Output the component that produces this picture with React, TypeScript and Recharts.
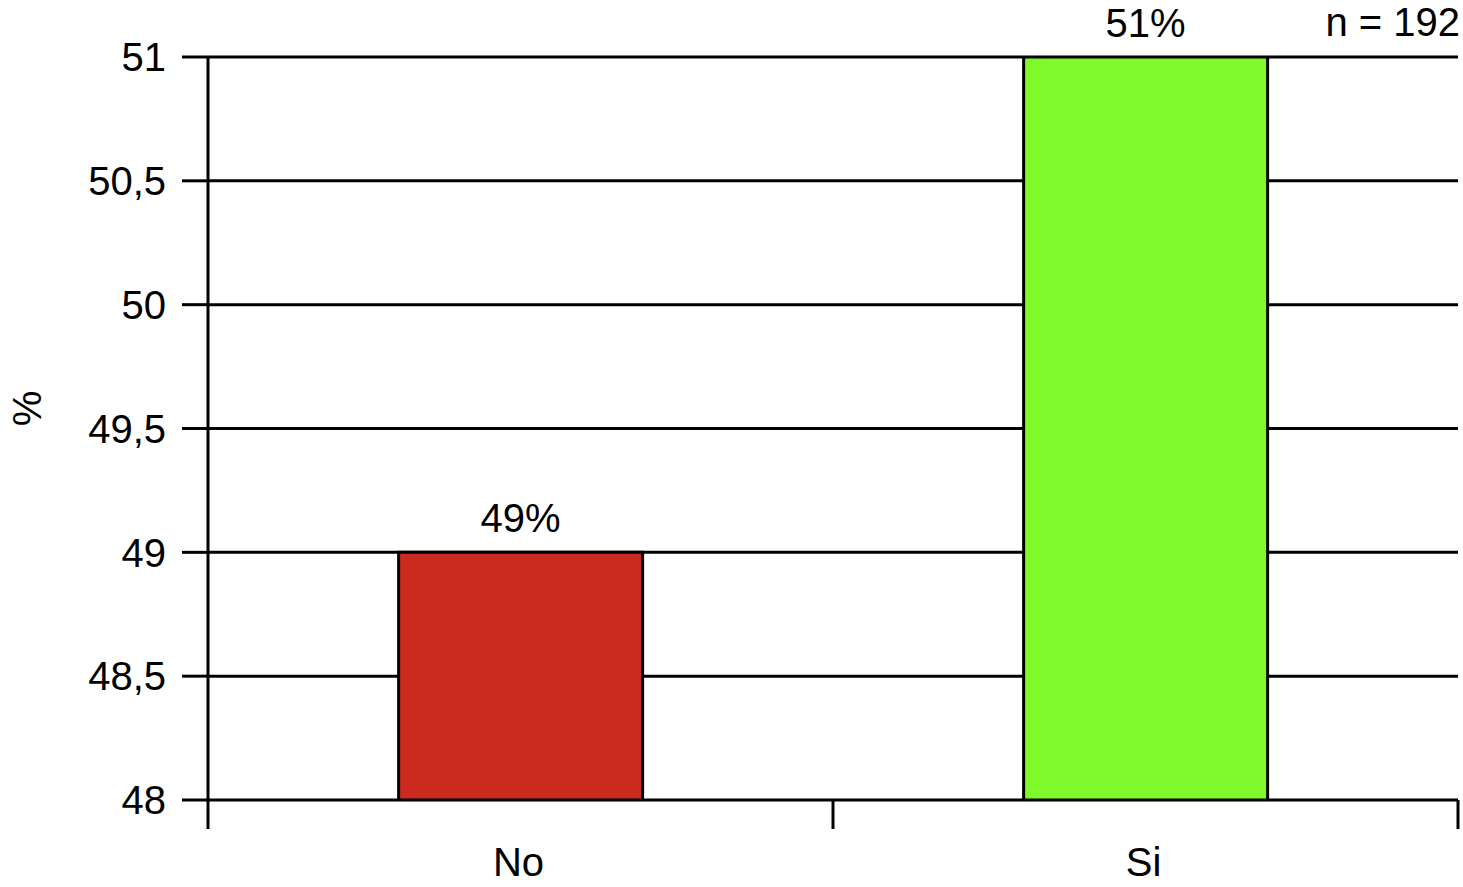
import React from 'react';
import { BarChart, Bar, XAxis, YAxis, CartesianGrid, LabelList, Cell } from 'recharts';

const categories = ['No', 'Si'];
const values = [49, 51];
const colors = ['#CB2A1E', '#80F92A'];
const yTicks = [48, 48.5, 49, 49.5, 50, 50.5, 51];
const sampleNote = 'n = 192';

const data = categories.map((c, i) => ({ name: c, value: values[i] }));

const FONT = '"Liberation Sans", Arial, Helvetica, sans-serif';
const FS = 40;

const XTick = (props: any) => {
  const { x, y, payload, index, visibleTicksCount } = props;
  const half = payload && payload.offset ? payload.offset : 0;
  const isLast = index === visibleTicksCount - 1;
  return (
    <g>
      <line x1={x - half} x2={x - half} y1={y} y2={y + 29} stroke="#000" strokeWidth={3} />
      {isLast && <line x1={x + half} x2={x + half} y1={y} y2={y + 29} stroke="#000" strokeWidth={3} />}
      <text x={x - 2} y={y + 62} textAnchor="middle" dominantBaseline="central" fontSize={FS} fill="#000" fontFamily={FONT}>
        {payload.value}
      </text>
    </g>
  );
};

const YLabel = (props: any) => {
  const vb = props.viewBox || {};
  const cx = (vb.x || 0) + 27;
  const cy = (vb.y || 0) + (vb.height || 0) / 2 - 20;
  return (
    <text x={cx} y={cy} transform={`rotate(-90, ${cx}, ${cy})`} textAnchor="middle" dominantBaseline="central" fontSize={FS} fill="#000" fontFamily={FONT}>
      %
    </text>
  );
};

export default function App() {
  return (
    <div style={{ position: 'absolute', left: 0, top: 0, width: 1463, height: 887, background: '#fff', fontFamily: FONT }}>
      <BarChart width={1463} height={887} data={data} margin={{ top: 57, right: 5, bottom: 0, left: 0 }} barCategoryGap="30.5%">
        <CartesianGrid vertical={false} stroke="#000" strokeWidth={3} />
        <XAxis
          dataKey="name"
          height={87}
          axisLine={false}
          tickLine={false}
          tickSize={0}
          tickMargin={0}
          tick={<XTick />}
          interval={0}
        />
        <YAxis
          width={208}
          domain={[48, 51]}
          ticks={yTicks}
          allowDataOverflow
          tickFormatter={(v: number) => String(v).replace('.', ',')}
          axisLine={{ stroke: '#000', strokeWidth: 3 }}
          tickLine={{ stroke: '#000', strokeWidth: 3 }}
          tickSize={26}
          tickMargin={16}
          tick={{ fontSize: FS, fill: '#000', fontFamily: FONT }}
          label={{ content: <YLabel /> }}
        />
        <Bar dataKey="value" stroke="#000" strokeWidth={3} isAnimationActive={false}>
          {data.map((d, i) => (
            <Cell key={d.name} fill={colors[i]} />
          ))}
          <LabelList
            dataKey="value"
            position="top"
            offset={20}
            formatter={(v: any) => `${v}%`}
            style={{ fontSize: FS, fill: '#000', fontFamily: FONT }}
          />
        </Bar>
      </BarChart>
      <div
        style={{
          position: 'absolute',
          right: 3,
          top: 0,
          height: 44,
          lineHeight: '44px',
          fontSize: FS,
          color: '#000',
          fontFamily: FONT,
          whiteSpace: 'nowrap',
        }}
      >
        {sampleNote}
      </div>
    </div>
  );
}
